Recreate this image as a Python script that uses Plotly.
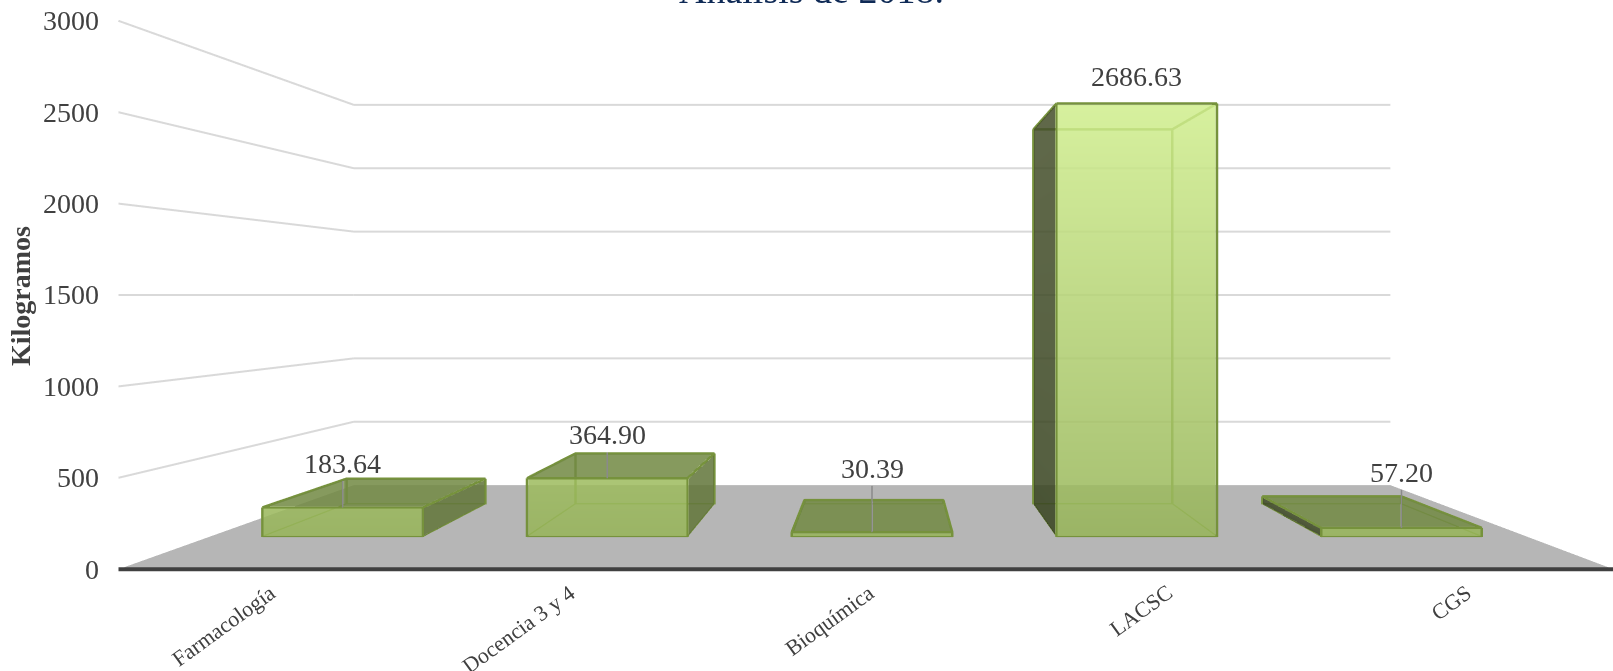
import plotly.graph_objects as go

categories = ["Farmacología", "Docencia 3 y 4", "Bioquímica", "LACSC", "CGS"]
values = [183.64, 364.90, 30.39, 2686.63, 57.20]
z_ticks = [0, 500, 1000, 1500, 2000, 2500, 3000]
title_text = "Análisis de 2018."
axis_title = "Kilogramos"

Y0, Y1 = 0.30, 0.70
BW = 0.608
SERIF = "Liberation Serif"
ZMAX = 3000.0


def centre(i):
    return 2.514 + (i - 2) * 1.0028


def lerp(a, b, t):
    return tuple(a[i] + (b[i] - a[i]) * t for i in range(3))


def rgb(c):
    return "rgb(%d,%d,%d)" % tuple(round(v) for v in c)


FRONT_LO, FRONT_HI = (150, 180, 88), (208, 238, 142)
SIDE_DARK_LO, SIDE_DARK_HI = (56, 68, 32), (70, 80, 44)
SIDE_R = (98, 118, 58)
TOP = (114, 138, 68)
EDGE = "#76923c"
OPACITY = 0.86


def bar_mesh(i, v):
    x0, x1 = centre(i) - BW / 2, centre(i) + BW / 2
    xs, ys, zs, cols, I, J, K = [], [], [], [], [], [], []

    def quad(pts, colors):
        n = len(xs)
        for p, c in zip(pts, colors):
            xs.append(p[0]); ys.append(p[1]); zs.append(p[2]); cols.append(rgb(c))
        I.extend([n, n]); J.extend([n + 1, n + 2]); K.extend([n + 2, n + 3])

    t = v / max(values)
    ctop = lerp(FRONT_LO, FRONT_HI, t)
    # the side turned to the camera depends on which side of the centre the bar stands
    if i + 0.5 < 2.5:
        sx = x1
        side_lo = side_hi = SIDE_R
    else:
        sx = x0
        side_lo, side_hi = SIDE_DARK_LO, SIDE_DARK_HI
    quad([(sx, Y0, 0), (sx, Y1, 0), (sx, Y1, v), (sx, Y0, v)], [side_lo, side_lo, side_hi, side_hi])
    if v < ZMAX / 2:  # the lid is only seen from above
        quad([(x0, Y0, v), (x1, Y0, v), (x1, Y1, v), (x0, Y1, v)], [TOP] * 4)
    quad([(x0, Y0, 0), (x1, Y0, 0), (x1, Y0, v), (x0, Y0, v)], [FRONT_LO, FRONT_LO, ctop, ctop])
    return go.Mesh3d(x=xs, y=ys, z=zs, i=I, j=J, k=K, vertexcolor=cols, flatshading=True, opacity=OPACITY,
                     lighting=dict(ambient=1, diffuse=0, specular=0, roughness=1, fresnel=0),
                     hoverinfo="skip", showlegend=False)


def bar_edges(i, v):
    x0, x1 = centre(i) - BW / 2, centre(i) + BW / 2
    corners = [(x0, Y0), (x1, Y0), (x1, Y1), (x0, Y1), (x0, Y0)]
    lx, ly, lz = [], [], []
    for z in (0, v):
        for c in corners:
            lx.append(c[0]); ly.append(c[1]); lz.append(z)
        lx.append(None); ly.append(None); lz.append(None)
    for c in corners[:4]:
        lx += [c[0], c[0], None]; ly += [c[1], c[1], None]; lz += [0, v, None]
    return go.Scatter3d(x=lx, y=ly, z=lz, mode="lines", line=dict(color=EDGE, width=5),
                        hoverinfo="skip", showlegend=False)


traces = []
n = len(categories)
traces.append(go.Mesh3d(x=[0, n, n, 0], y=[0, 0, 1, 1], z=[0, 0, 0, 0], i=[0, 0], j=[1, 2], k=[2, 3],
                        color="#b6b6b6", flatshading=True,
                        lighting=dict(ambient=1, diffuse=0, specular=0, roughness=1, fresnel=0),
                        hoverinfo="skip", showlegend=False))
gx, gy, gz = [], [], []
for t in z_ticks[1:]:
    gx += [0, 0, n, None]; gy += [0, 1, 1, None]; gz += [t, t, t, None]
traces.append(go.Scatter3d(x=gx, y=gy, z=gz, mode="lines", line=dict(color="#d9d9d9", width=4),
                           hoverinfo="skip", showlegend=False))
traces.append(go.Scatter3d(x=[0, n], y=[0, 0], z=[0, 0], mode="lines", line=dict(color="#404040", width=8),
                           hoverinfo="skip", showlegend=False))

for i, v in enumerate(values):
    traces.append(bar_edges(i, v))
LEAD_UP = [165, 160, 287, 0, 236]
LABEL_UP = [165, 160, 287, 57, 236]
lx, ly, lz = [], [], []
for i, v in enumerate(values):
    if LEAD_UP[i]:
        lx += [centre(i), centre(i), None]; ly += [Y0, Y0, None]; lz += [v, v + LEAD_UP[i], None]
traces.append(go.Scatter3d(x=lx, y=ly, z=lz, mode="lines", line=dict(color="#8a8a8a", width=3),
                           hoverinfo="skip", showlegend=False))
for i, v in enumerate(values):
    traces.append(bar_mesh(i, v))

fig = go.Figure(traces)

ann3d = []
for t in z_ticks:
    ann3d.append(dict(x=0, y=0, z=t, text=str(t), showarrow=False, xanchor="right", yanchor="middle", xshift=-17,
                      font=dict(family=SERIF, size=28, color="#404040")))
for i, c in enumerate(categories):
    ann3d.append(dict(x=i + 0.5, y=0, z=0, text=c, showarrow=False, textangle=-36, xanchor="right", yanchor="top",
                      xshift=15, yshift=-8, font=dict(family=SERIF, size=22, color="#404040")))
for i, v in enumerate(values):
    ann3d.append(dict(x=centre(i), y=Y0, z=v + LABEL_UP[i], text="%.2f" % v, showarrow=False,
                      xanchor="center", yanchor="bottom",
                      font=dict(family=SERIF, size=28, color="#404040")))

W = 1772
ASPECT = dict(x=1494 / 548, y=315 / 548, z=1.0)
EYE_X = 20 / 548
fig.update_layout(
    width=W, height=671, autosize=False, margin=dict(l=0, r=0, t=0, b=0),
    paper_bgcolor="white", showlegend=False,
    scene=dict(
        domain=dict(x=[0, 1], y=[1 - 590 / 671, 1]),
        xaxis=dict(visible=False, range=[0, n]),
        yaxis=dict(visible=False, range=[0, 1]),
        zaxis=dict(visible=False, range=[0, ZMAX]),
        aspectmode="manual", aspectratio=ASPECT, bgcolor="white",
        camera=dict(eye=dict(x=EYE_X, y=-1.586, z=0), center=dict(x=EYE_X, y=0, z=0), up=dict(x=0, y=0, z=1),
                    projection=dict(type="perspective")),
        annotations=ann3d,
    ),
    annotations=[
        dict(xref="paper", yref="paper", x=811 / W, y=1 - 13 / 671, text=title_text, showarrow=False,
             xanchor="center", yanchor="bottom", font=dict(family=SERIF, size=38, color="#0f2a56")),
        dict(xref="paper", yref="paper", x=20 / W, y=1 - 296 / 671, text="<b>%s</b>" % axis_title, showarrow=False,
             textangle=-90, xanchor="center", yanchor="middle", font=dict(family=SERIF, size=28, color="#404040")),
    ],
)
fig.write_html("out.html", post_script="document.documentElement.style.overflow='hidden';document.body.style.overflow='hidden';document.body.style.margin='0';", config=dict(displayModeBar=False))
